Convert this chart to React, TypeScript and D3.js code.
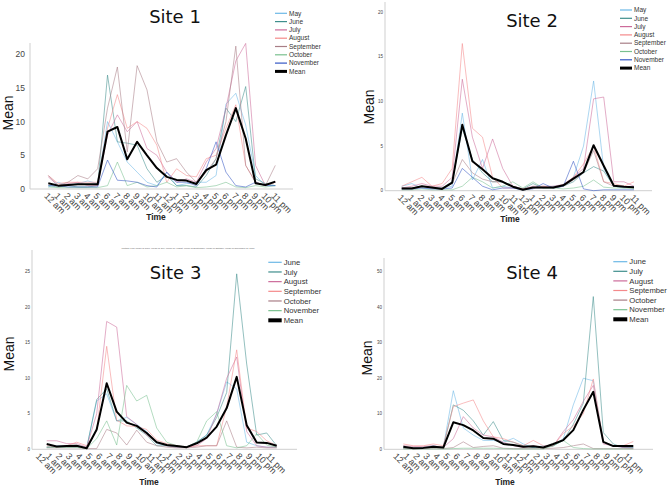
import React from "react";
import * as d3 from "d3";

const HOURS = ["12 am","1 am","2 am","3 am","4 am","5 am","6 am","7 am","8 am","9 am","10 am","11 am","12 pm","1 pm","2 pm","3 pm","4 pm","5 pm","6 pm","7 pm","8 pm","9 pm","10 pm","11 pm"];

const MONTHS_A = ["May","June","July","August","September","October","November"];
const MONTHS_B = ["June","July","August","September","October","November"];

// Site 1
const s1May = [0.3,1.0,0.5,0.8,1.2,0.8,10.0,7.0,4.0,2.5,1.0,0.5,2.5,0.5,0.8,1.0,1.0,2.0,12.6,14.2,9.5,2.0,0.5,0.5];
const s1June = [0.5,0.3,0.5,0.3,0.3,0.5,16.9,7.0,6.8,6.5,3.0,1.0,2.0,0.5,0.5,0.3,2.0,4.5,12.0,10.0,15.2,1.5,0.8,0.5];
const s1July = [1.8,0.5,0.8,1.0,0.5,0.5,8.0,11.0,8.5,10.0,6.0,5.0,2.5,1.0,1.5,1.0,4.0,6.0,12.0,19.0,21.6,3.5,0.5,1.0];
const s1August = [2.0,0.8,1.0,1.0,1.0,1.0,9.0,14.0,9.0,10.0,9.0,6.5,1.0,3.0,2.0,1.8,4.5,5.0,9.0,12.5,3.5,1.0,0.5,1.0];
const s1September = [2.0,0.5,1.0,2.0,1.5,3.0,12.0,18.1,5.5,18.3,14.7,7.0,4.0,4.5,2.5,1.0,2.5,4.5,10.0,21.2,3.5,1.0,0.5,3.5];
const s1October = [0.3,0.2,0.2,0.2,0.2,0.2,0.5,4.0,0.5,1.0,0.3,0.5,1.0,0.3,0.5,0.2,0.3,0.5,1.0,0.3,0.2,0.5,0.3,0.5];
const s1November = [0.5,0.5,0.3,0.3,0.3,0.3,4.3,1.3,1.2,1.0,0.5,0.3,2.5,1.0,1.0,0.5,3.0,7.0,2.5,0.5,0.3,1.0,0.5,0.5];
const s1Mean = [0.85,0.5,0.6,0.7,0.7,0.7,8.5,9.2,4.4,7.0,5.0,3.1,1.8,1.35,1.25,0.75,2.8,3.6,8.0,12.0,7.5,0.85,0.6,1.1];

// Site 2
const s2May = [0.5,0.8,0.3,0.3,0.3,0.5,8.7,1.2,3.5,0.3,0.5,0.3,0.1,0.3,0.3,0.5,0.5,1.5,5.0,12.3,2.5,0.5,0.3,0.5];
const s2June = [0.3,0.3,0.5,0.3,0.3,1.0,7.0,3.5,2.0,1.0,1.0,0.5,0.2,0.8,0.3,0.3,0.5,1.0,2.0,2.7,2.2,0.5,0.5,0.3];
const s2July = [0.3,0.5,0.8,0.5,0.5,1.5,12.5,6.0,2.5,5.8,2.5,0.5,0.2,0.5,0.5,0.5,0.7,1.5,2.5,10.3,10.5,1.0,1.0,0.5];
const s2August = [0.5,1.0,1.5,0.5,0.8,2.5,16.5,7.0,6.0,1.5,0.3,0.3,0.2,0.3,0.5,0.3,0.6,1.5,3.0,5.0,1.0,0.8,0.5,1.0];
const s2September = [0.3,0.3,0.5,0.3,0.3,0.8,3.5,2.0,1.3,1.0,1.0,0.5,0.2,0.3,0.3,0.3,0.5,1.2,2.0,4.5,1.0,0.5,0.5,0.3];
const s2October = [0.1,0.1,0.2,0.1,0.1,0.1,0.5,1.5,1.0,0.3,0.5,1.0,0.3,1.0,0.3,0.3,0.2,0.3,0.5,1.2,0.4,0.3,0.3,0.2];
const s2November = [0.2,0.2,0.3,0.2,0.2,0.3,2.5,1.5,0.5,0.1,0.3,0.3,0.1,0.2,0.8,0.3,0.5,3.3,0.2,0.0,0.1,0.1,0.1,0.1];
const s2Mean = [0.25,0.25,0.5,0.35,0.2,0.9,7.4,3.3,2.4,1.4,1.0,0.45,0.1,0.35,0.35,0.35,0.6,1.35,2.1,5.1,2.8,0.55,0.45,0.4];

// Site 3
const s3June = [0.3,0.5,0.5,0.5,0.2,6.8,7.8,4.0,4.5,3.5,2.5,0.8,0.5,0.3,0.3,1.0,2.0,5.0,9.5,8.5,1.0,0.5,0.3,0.3];
const s3July = [0.3,0.3,0.3,0.3,0.2,7.0,8.5,4.0,4.0,3.0,2.0,0.5,0.5,0.3,0.3,1.0,2.0,4.5,8.0,24.7,12.0,2.0,2.3,0.5];
const s3August = [1.2,1.2,0.8,0.8,0.3,5.0,18.0,17.2,4.6,3.5,2.0,1.0,0.5,0.3,0.3,0.5,1.5,5.0,10.0,13.0,2.5,0.5,0.3,0.3];
const s3September = [0.5,0.3,0.5,1.0,0.5,2.7,14.5,4.1,3.3,3.2,2.8,1.3,0.8,0.5,0.3,0.5,0.5,0.5,6.0,14.0,3.0,2.5,1.2,0.5];
const s3October = [0.2,0.2,0.2,0.2,0.1,0.1,2.8,2.3,0.6,2.7,1.0,0.5,0.3,0.2,0.2,0.3,0.5,0.5,4.0,0.3,0.2,0.3,0.2,0.2];
const s3November = [0.3,0.3,0.3,0.3,0.1,1.5,4.0,0.6,9.0,6.8,7.6,3.0,1.0,0.5,0.3,1.0,4.0,5.3,0.5,0.2,0.5,2.2,0.6,0.3];
const s3Mean = [0.75,0.4,0.45,0.5,0.15,2.8,9.3,5.3,3.75,3.3,2.3,1.0,0.6,0.45,0.3,0.85,1.65,3.2,5.8,10.2,3.4,0.95,0.9,0.5];

// Site 4
const s4June = [0.5,0.3,0.5,1.0,0.5,16.5,6.0,4.0,2.5,2.5,2.0,3.1,1.5,0.5,1.0,1.0,3.0,12.5,20.0,19.3,2.0,1.0,0.5,0.5];
const s4July = [0.3,0.3,0.3,0.5,0.5,12.5,11.0,8.0,4.0,7.8,2.5,2.0,1.0,0.5,0.5,1.0,2.5,7.0,13.0,43.0,4.7,1.5,0.5,0.5];
const s4August = [1.0,0.8,0.8,1.0,0.5,3.0,9.2,6.0,4.0,3.5,2.0,1.0,0.5,1.0,0.5,1.0,5.0,8.3,13.5,18.0,1.5,1.0,0.5,0.3];
const s4September = [1.5,1.0,1.0,1.5,1.0,12.0,13.0,13.9,8.0,3.5,3.0,2.0,1.0,2.5,1.0,1.0,4.5,6.5,10.0,19.8,2.0,1.0,1.0,2.2];
const s4October = [0.2,0.2,0.2,0.2,0.2,0.5,2.1,0.5,0.8,1.0,0.3,0.2,0.2,0.2,0.2,0.3,0.5,1.0,1.5,0.2,0.2,0.2,0.2,0.2];
const s4November = [0.1,0.1,0.1,0.1,0.1,0.2,0.3,0.3,0.3,0.3,0.2,0.1,0.1,0.1,0.1,1.0,2.5,0.5,0.2,0.1,0.1,0.1,0.1,0.1];
const s4Mean = [0.73,0.3,0.4,0.7,0.5,7.6,6.8,5.3,3.2,3.0,1.5,1.2,0.7,0.85,0.5,1.5,2.6,5.4,11.1,16.2,2.1,0.9,0.9,0.9];

const TICKS_1 = [0, 5, 10, 15, 20];
const TICKS_2 = [0, 5, 10, 15, 20];
const TICKS_3 = [0, 5, 10, 15, 20, 25];
const TICKS_4 = [0, 10, 20, 30, 40, 50];

const PALETTE = ["#6cb8e6", "#3e8e8c", "#cc6b9a", "#f4898a", "#a87e86", "#79c08f", "#3457c4"];

const FONT = "'Liberation Sans', Arial, sans-serif";

type PanelCfg = {
  title: string;
  names: string[];
  series: number[][];
  mean: number[];
  ticks: number[];
  yMax: number;
  x0: number; x1: number;
  yZero: number; yTop: number;
  axisLeft: number; axisRight: number; axisTop: number;
  tickFont: number; tickRight: number;
  labelDx: number;
  titleX: number; titleY: number;
  meanX: number; meanY: number;
  timeX: number; timeY: number;
  legX: number; legY: number; legStep: number; legFont: number; legLen: number; legMeanW: number;
};

function Panel({ c }: { c: PanelCfg }) {
  const x = d3.scalePoint<string>().domain(HOURS).range([c.x0, c.x1]);
  const y = d3.scaleLinear().domain([0, c.yMax]).range([c.yZero, c.yTop]);
  const line = d3.line<number>().x((_, i) => x(HOURS[i]) as number).y((v) => y(v));
  return (
    <g>
      <line x1={c.axisLeft} x2={c.axisLeft} y1={c.axisTop} y2={c.yZero} stroke="#cfcfcf" strokeWidth={1} />
      <line x1={c.axisLeft} x2={c.axisRight} y1={c.yZero} y2={c.yZero} stroke="#cfcfcf" strokeWidth={1} />
      {c.ticks.map((t) => (
        <text key={t} x={c.tickRight} y={y(t)} dy="0.35em" textAnchor="end" fontSize={c.tickFont} fill="#444" fontFamily={FONT}>{t}</text>
      ))}
      {HOURS.map((h) => (
        <text key={h} transform={`translate(${(x(h) as number) + c.labelDx},${c.yZero + 3}) rotate(45)`} fontSize={9} fill="#444" fontFamily={FONT} dominantBaseline="hanging">{h}</text>
      ))}
      {c.series.map((s, k) => (
        <path key={k} d={line(s) || ""} fill="none" stroke={PALETTE[k]} strokeWidth={0.8} strokeOpacity={0.7} />
      ))}
      <path d={line(c.mean) || ""} fill="none" stroke="#000" strokeWidth={2} strokeLinejoin="round" />
      <text x={c.titleX} y={c.titleY} textAnchor="middle" fontSize={18} fill="#111" fontFamily="'DejaVu Sans', sans-serif">{c.title}</text>
      <text transform={`translate(${c.meanX},${c.meanY}) rotate(-90)`} textAnchor="middle" fontSize={14} fill="#111" fontFamily={FONT}>Mean</text>
      <text x={c.timeX} y={c.timeY} textAnchor="middle" fontSize={8.5} fontWeight="bold" fill="#222" fontFamily={FONT}>Time</text>
      {c.names.map((n, k) => (
        <g key={n}>
          <line x1={c.legX} x2={c.legX + c.legLen} y1={c.legY + k * c.legStep} y2={c.legY + k * c.legStep} stroke={PALETTE[k]} strokeWidth={1.2} />
          <text x={c.legX + c.legLen + 2} y={c.legY + k * c.legStep} dy="0.35em" fontSize={c.legFont} fill="#333" fontFamily={FONT}>{n}</text>
        </g>
      ))}
      <g>
        <line x1={c.legX} x2={c.legX + c.legLen} y1={c.legY + c.names.length * c.legStep} y2={c.legY + c.names.length * c.legStep} stroke="#000" strokeWidth={c.legMeanW} />
        <text x={c.legX + c.legLen + 2} y={c.legY + c.names.length * c.legStep} dy="0.35em" fontSize={c.legFont} fill="#333" fontFamily={FONT}>Mean</text>
      </g>
    </g>
  );
}

const panels: PanelCfg[] = [
  {
    title: "Site 1", names: MONTHS_A,
    series: [s1May, s1June, s1July, s1August, s1September, s1October, s1November], mean: s1Mean,
    ticks: TICKS_1, yMax: 21.6, x0: 48.3, x1: 275.3, yZero: 189, yTop: 43.4,
    axisLeft: 30, axisRight: 293, axisTop: 43, tickFont: 8.5, tickRight: 25, labelDx: 0,
    titleX: 175, titleY: 23, meanX: 13, meanY: 113, timeX: 156, timeY: 220,
    legX: 275, legY: 13.3, legStep: 8.3, legFont: 6.5, legLen: 12, legMeanW: 3,
  },
  {
    title: "Site 2", names: MONTHS_A,
    series: [s2May, s2June, s2July, s2August, s2September, s2October, s2November], mean: s2Mean,
    ticks: TICKS_2, yMax: 20, x0: 401.7, x1: 634, yZero: 190.7, yTop: 12.3,
    axisLeft: 385, axisRight: 652, axisTop: 2, tickFont: 4.5, tickRight: 383, labelDx: 0,
    titleX: 532, titleY: 27, meanX: 374, meanY: 107, timeX: 510, timeY: 222,
    legX: 620, legY: 10, legStep: 8.3, legFont: 6.5, legLen: 12, legMeanW: 3,
  },
  {
    title: "Site 3", names: MONTHS_B,
    series: [s3June, s3July, s3August, s3September, s3October, s3November], mean: s3Mean,
    ticks: TICKS_3, yMax: 25, x0: 46.7, x1: 276.7, yZero: 449.3, yTop: 271.7,
    axisLeft: 32, axisRight: 297, axisTop: 250, tickFont: 4.5, tickRight: 30, labelDx: -7,
    titleX: 175.5, titleY: 279, meanX: 14, meanY: 354, timeX: 149, timeY: 485,
    legX: 268.3, legY: 262.3, legStep: 9.67, legFont: 7.7, legLen: 13.4, legMeanW: 4,
  },
  {
    title: "Site 4", names: MONTHS_B,
    series: [s4June, s4July, s4August, s4September, s4October, s4November], mean: s4Mean,
    ticks: TICKS_4, yMax: 50, x0: 403.3, x1: 633.3, yZero: 449.3, yTop: 271.7,
    axisLeft: 384, axisRight: 653, axisTop: 258, tickFont: 4.5, tickRight: 382, labelDx: -6,
    titleX: 532, titleY: 279, meanX: 372, meanY: 358, timeX: 505, timeY: 485,
    legX: 613.3, legY: 261.7, legStep: 9.6, legFont: 7.7, legLen: 14, legMeanW: 4,
  },
];

export default function App() {
  return (
    <svg width={669} height={487} style={{ position: "absolute", left: 0, top: 0, background: "#fff" }}>
      <rect width={669} height={487} fill="#fff" />
      {panels.map((p) => (
        <Panel key={p.title} c={p} />
      ))}
      <text x={188} y={249} textAnchor="middle" fontSize={2.4} fill="#555" fontFamily={FONT}>
        Multiple Line Mean of June, Mean of July, Mean of August, Mean of September, Mean of October, Mean of November by Time
      </text>
    </svg>
  );
}
